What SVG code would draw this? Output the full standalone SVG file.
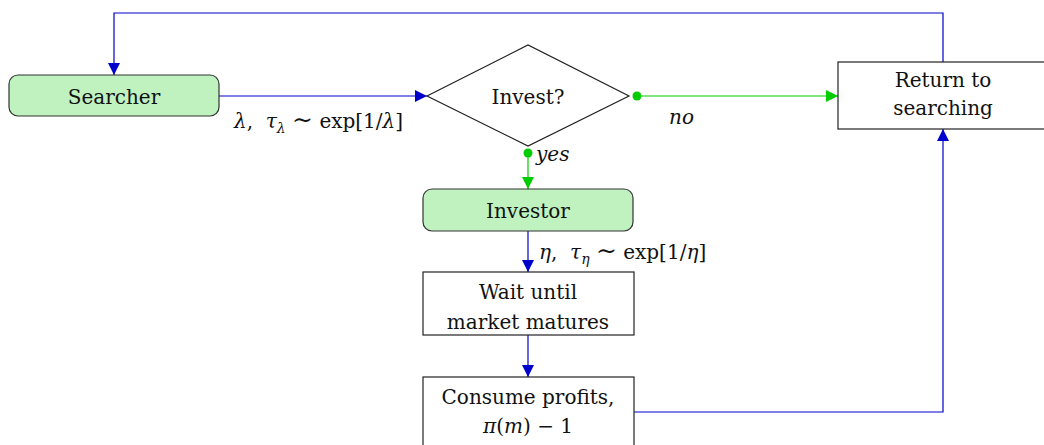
<svg xmlns="http://www.w3.org/2000/svg" width="1044" height="445" viewBox="0 0 1044 445">
<defs>
<marker id="ab" markerUnits="userSpaceOnUse" markerWidth="14" markerHeight="14" viewBox="0 0 14 14" refX="13" refY="7" orient="auto"><path d="M1,1 L13,7 L1,13 Z" fill="#0000cc"/></marker>
<marker id="ag" markerUnits="userSpaceOnUse" markerWidth="14" markerHeight="14" viewBox="0 0 14 14" refX="13" refY="7" orient="auto"><path d="M1,1 L13,7 L1,13 Z" fill="#00cc00"/></marker>
</defs>
<style>
text{font-family:'DejaVu Serif','Liberation Serif',serif;font-size:20px;fill:#111;}
.i{font-style:italic;}
.s{font-size:25px;}
.g{fill:#bff2bf;stroke:#333;stroke-width:1.2;}
.b{fill:#fff;stroke:#222;stroke-width:1.2;}
.cb{fill:none;stroke:#0000cc;stroke-width:1.2;}
.cg{fill:none;stroke:#00cc00;stroke-width:1.2;}
</style>
<rect width="1044" height="445" fill="#fff"/>
<g id="connectors">
<polyline class="cb" points="943,62 943,13 114,13 114,75" marker-end="url(#ab)"/>
<line class="cb" x1="219" y1="96" x2="427" y2="96" marker-end="url(#ab)"/>
<line class="cg" x1="637" y1="96" x2="838" y2="96" marker-end="url(#ag)"/>
<circle cx="637" cy="96" r="4.5" fill="#00cc00"/>
<line class="cg" x1="528" y1="153" x2="528" y2="189" marker-end="url(#ag)"/>
<circle cx="528" cy="153" r="4.5" fill="#00cc00"/>
<line class="cb" x1="528" y1="231" x2="528" y2="272" marker-end="url(#ab)"/>
<line class="cb" x1="528" y1="335" x2="528" y2="377" marker-end="url(#ab)"/>
<polyline class="cb" points="634,412 943,412 943,129" marker-end="url(#ab)"/>
<text x="234" y="128" xml:space="preserve"><tspan class="i">λ</tspan>,  <tspan class="i">τ</tspan><tspan class="i" font-size="14" dy="5">λ</tspan><tspan dy="-5"> </tspan><tspan class="s">∼</tspan> exp[1/<tspan class="i">λ</tspan>]</text>
<text class="i" x="669" y="124" font-size="21">no</text>
<text class="i" x="536" y="161" font-size="21">yes</text>
<text x="539" y="259" xml:space="preserve"><tspan class="i">η</tspan>,  <tspan class="i">τ</tspan><tspan class="i" font-size="14" dy="5">η</tspan><tspan dy="-5"> </tspan><tspan class="s">∼</tspan> exp[1/<tspan class="i">η</tspan>]</text>
</g>
<g id="searcher">
<rect class="g" x="9" y="75" width="210" height="41" rx="9"/>
<text x="114" y="104" text-anchor="middle">Searcher</text>
</g>
<g id="invest">
<polygon class="b" points="427,96 528,45 629,96 528,146"/>
<text x="528" y="104" text-anchor="middle">Invest?</text>
</g>
<g id="return">
<rect class="b" x="838" y="62" width="210" height="67"/>
<text x="943" y="87" text-anchor="middle">Return to</text>
<text x="943" y="115" text-anchor="middle">searching</text>
</g>
<g id="investor">
<rect class="g" x="423" y="189" width="210" height="42" rx="9"/>
<text x="528" y="218" text-anchor="middle">Investor</text>
</g>
<g id="wait">
<rect class="b" x="423" y="272" width="211" height="63"/>
<text x="528" y="299" text-anchor="middle">Wait until</text>
<text x="528" y="329" text-anchor="middle">market matures</text>
</g>
<g id="consume">
<rect class="b" x="423" y="377" width="211" height="72"/>
<text x="528" y="404" text-anchor="middle">Consume profits,</text>
<text x="528" y="433" text-anchor="middle"><tspan class="i">π</tspan>(<tspan class="i">m</tspan>) − 1</text>
</g>
</svg>
